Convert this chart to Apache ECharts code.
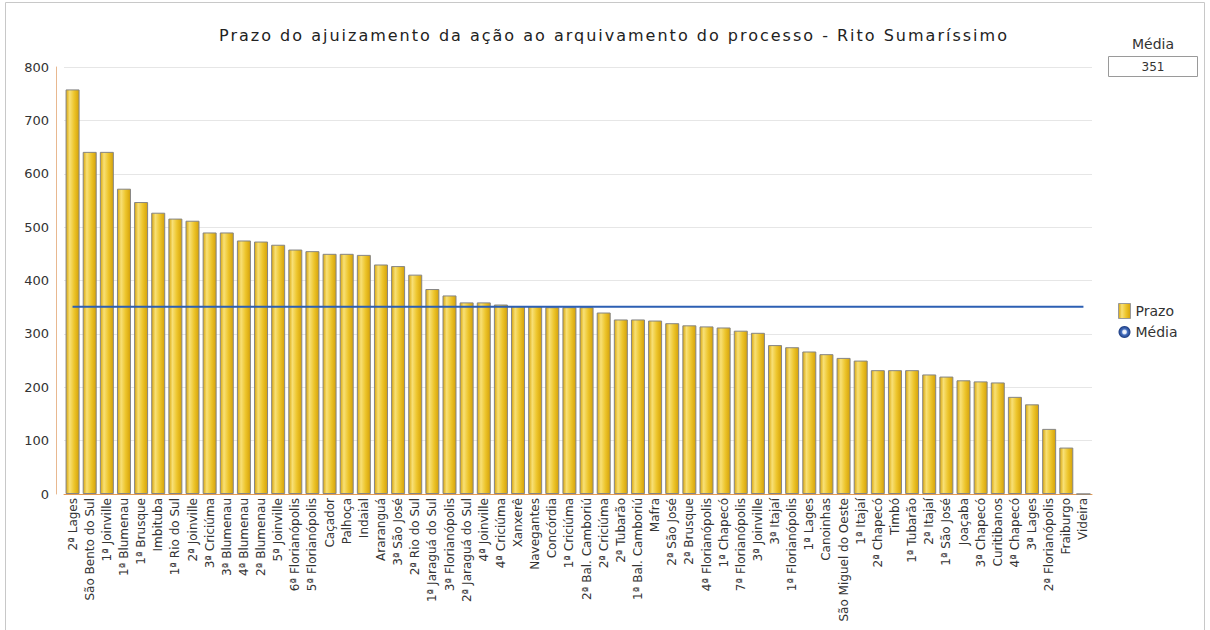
<!DOCTYPE html>
<html>
<head>
<meta charset="utf-8">
<script src="https://cdn.jsdelivr.net/npm/echarts@6/dist/echarts.min.js"></script>
<style>
  html, body { margin: 0; padding: 0; background: #ffffff; }
  #chart { width: 1210px; height: 630px; }
</style>
</head>
<body>
<div id="chart"></div>
<script>
// Varas (comarcas) ordered by average time, in days
const categories = [
  '2ª Lages', 'São Bento do Sul', '1ª Joinville', '1ª Blumenau', '1ª Brusque',
  'Imbituba', '1ª Rio do Sul', '2ª Joinville', '3ª Criciúma', '3ª Blumenau',
  '4ª Blumenau', '2ª Blumenau', '5ª Joinville', '6ª Florianópolis', '5ª Florianópolis',
  'Caçador', 'Palhoça', 'Indaial', 'Araranguá', '3ª São José',
  '2ª Rio do Sul', '1ª Jaraguá do Sul', '3ª Florianópolis', '2ª Jaraguá do Sul', '4ª Joinville',
  '4ª Criciúma', 'Xanxerê', 'Navegantes', 'Concórdia', '1ª Criciúma',
  '2ª Bal. Camboriú', '2ª Criciúma', '2ª Tubarão', '1ª Bal. Camboriú', 'Mafra',
  '2ª São José', '2ª Brusque', '4ª Florianópolis', '1ª Chapecó', '7ª Florianópolis',
  '3ª Joinville', '3ª Itajaí', '1ª Florianópolis', '1ª Lages', 'Canoinhas',
  'São Miguel do Oeste', '1ª Itajaí', '2ª Chapecó', 'Timbó', '1ª Tubarão',
  '2ª Itajaí', '1ª São José', 'Joaçaba', '3ª Chapecó', 'Curitibanos',
  '4ª Chapecó', '3ª Lages', '2ª Florianópolis', 'Fraiburgo', 'Videira'
];

const prazo = [
  758, 641, 641, 572, 547,
  527, 516, 512, 490, 490,
  475, 473, 467, 458, 455,
  450, 450, 448, 430, 427,
  411, 384, 372, 359, 359,
  355, 352, 352, 350, 350,
  350, 340, 327, 327, 325,
  320, 316, 314, 312, 306,
  302, 279, 275, 267, 262,
  255, 250, 232, 232, 232,
  224, 220, 213, 211, 209,
  182, 168, 122, 87, 0
];

const media = 351;
const mediaLine = categories.map(() => media);

const yTicks = { min: 0, max: 800, interval: 100 };

const titleText = 'Prazo do ajuizamento da ação ao arquivamento do processo - Rito Sumaríssimo';
const FONT = 'DejaVu Sans, Verdana, sans-serif';

const barFill = new echarts.graphic.LinearGradient(0, 0, 1, 0, [
  { offset: 0, color: '#D9A70C' },
  { offset: 0.28, color: '#F8E076' },
  { offset: 0.62, color: '#EDC52C' },
  { offset: 1, color: '#D5A208' }
]);

const chart = echarts.init(document.getElementById('chart'), null, { renderer: 'svg' });

chart.setOption({
  backgroundColor: '#ffffff',
  animation: false,
  title: {
    text: titleText,
    left: 609,
    top: 22,
    textAlign: 'center',
    textStyle: { fontFamily: FONT, fontSize: 16, fontWeight: 'normal', color: '#222' }
  },
  legend: {
    orient: 'vertical',
    left: 1113,
    top: 298,
    itemGap: 6,
    itemWidth: 12,
    itemHeight: 15,
    textStyle: { fontFamily: FONT, fontSize: 14, color: '#333' },
    data: [
      { name: 'Prazo', icon: 'rect', itemStyle: { color: barFill, borderColor: '#999', borderWidth: 1 } },
      {
        name: 'Média', icon: 'circle',
        itemStyle: {
          color: new echarts.graphic.RadialGradient(0.5, 0.5, 0.5, [
            { offset: 0, color: '#ffffff' },
            { offset: 0.3, color: '#dfe7f7' },
            { offset: 0.5, color: '#4670c0' },
            { offset: 1, color: '#1b3a7e' }
          ])
        }
      }
    ]
  },
  grid: { left: 64, right: 118, top: 67, bottom: 136, containLabel: false },
  xAxis: {
    type: 'category',
    data: categories,
    boundaryGap: true,
    axisLine: { lineStyle: { color: '#E59A50', width: 1 } },
    axisTick: { show: false },
    axisLabel: {
      rotate: 90,
      interval: 0,
      margin: 4,
      fontFamily: FONT,
      fontSize: 12,
      color: '#333'
    }
  },
  yAxis: {
    type: 'value',
    min: yTicks.min,
    max: yTicks.max,
    interval: yTicks.interval,
    offset: 8,
    axisLine: { show: true, lineStyle: { color: '#E8B890', width: 1 } },
    axisTick: { show: false },
    axisLabel: { fontFamily: FONT, fontSize: 13, color: '#333', margin: 7 },
    splitLine: { lineStyle: { color: '#E6E6E6', width: 1 } }
  },
  series: [
    {
      name: 'Prazo',
      type: 'bar',
      data: prazo,
      barWidth: 14,
      itemStyle: { color: barFill, borderColor: '#858585', borderWidth: 1 }
    },
    {
      name: 'Média',
      type: 'line',
      data: mediaLine,
      symbol: 'none',
      lineStyle: { color: '#2C5FB3', width: 2 },
      z: 5
    }
  ],
  graphic: [
    // panel frame
    {
      type: 'rect',
      shape: { x: 5.5, y: 2.5, width: 1199, height: 640 },
      style: { fill: 'none', stroke: '#C8C8C8', lineWidth: 1 },
      silent: true
    },
    // average readout
    {
      type: 'text',
      left: 1132,
      top: 37,
      style: { text: 'Média', font: '14px ' + FONT, fill: '#333' }
    },
    {
      type: 'rect',
      shape: { x: 1108.5, y: 56.5, width: 89, height: 20 },
      style: { fill: '#ffffff', stroke: '#9A9A9A', lineWidth: 1 }
    },
    {
      type: 'text',
      x: 1153,
      y: 66.5,
      style: { text: String(media), font: '12px ' + FONT, fill: '#333', align: 'center', verticalAlign: 'middle' }
    }
  ]
});

// the title is set with wide tracking
function trackTitle() {
  document.querySelectorAll('#chart text').forEach(function (t) {
    if (t.textContent === titleText) t.setAttribute('letter-spacing', '2');
  });
}
chart.on('finished', trackTitle);
trackTitle();
setTimeout(trackTitle, 50);
</script>
</body>
</html>
